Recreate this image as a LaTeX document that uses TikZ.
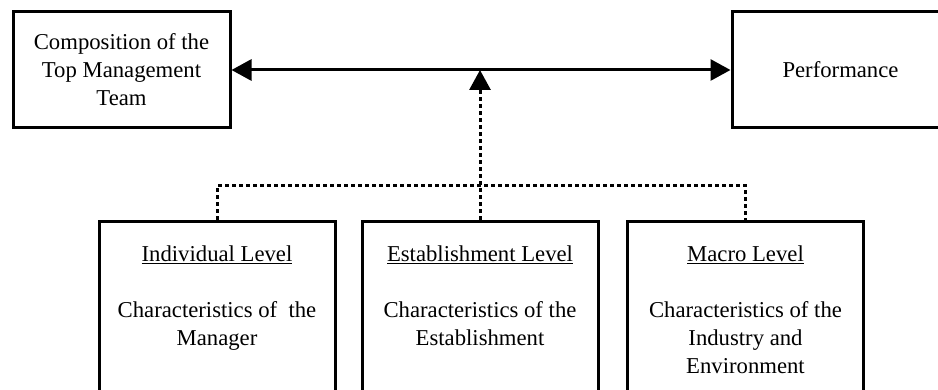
\documentclass[tikz,border=0pt]{standalone}
\usepackage{fontspec}
\setmainfont{Liberation Serif}
\usetikzlibrary{positioning, arrows.meta}

\begin{document}
\begin{tikzpicture}[x=1pt, y=1pt,
        >={Triangle[length=20pt, width=21pt]},
        topbox/.style={draw, line width=3pt, minimum width=217pt, minimum height=116pt,
            align=center, inner sep=0pt, font=\fontsize{22.7}{28}\selectfont},
        levelbox/.style={draw, line width=3pt, minimum width=236pt, minimum height=200pt,
            anchor=north, inner sep=0pt},
        leveltext/.style={align=center, inner sep=0pt, anchor=north,
            font=\fontsize{22.7}{28}\selectfont},
        link/.style={line width=3pt, dash pattern=on 3.5pt off 3.5pt}
    ]
    \clip (0,0) rectangle (938,-390);

    % top row
    \node[topbox] (team) at (121.5,-70) {Composition of the\\Top Management\\Team};
    \node[topbox] (perf) at (840.5,-70) {Performance};

    % bottom row
    \node[levelbox] (indiv) at (217,-220) {};
    \node[levelbox] (estab) at (480,-220) {};
    \node[levelbox] (macro) at (745.5,-220) {};

    \node[leveltext, below=26pt of indiv.north] (indivtext)
        {\underline{Individual Level}\\[28pt]Characteristics of\ \ the\\Manager};
    \node[leveltext, below=26pt of estab.north] (estabtext)
        {\underline{Establishment Level}\\[28pt]Characteristics of the\\Establishment};
    \node[leveltext, below=26pt of macro.north] (macrotext)
        {\underline{Macro Level}\\[28pt]Characteristics of the\\Industry and\\Environment};

    % relation
    \draw[line width=3pt, <->] (team) -- (perf);

    % moderators
    \coordinate (hub) at (team.east -| estab.north);
    \coordinate (bar) at (0,-186);
    \draw[link] (indiv.north) -- (indiv.north |- bar) -- (macro.north |- bar) -- (macro.north);
    \draw[link, ->] (estab.north) -- (hub);
\end{tikzpicture}
\end{document}
